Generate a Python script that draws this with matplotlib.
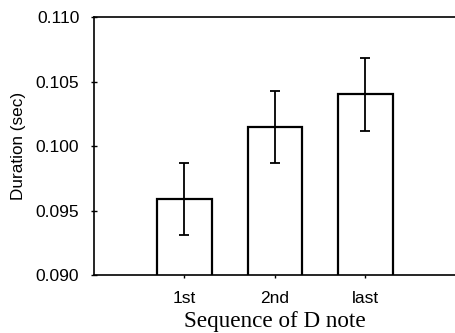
import numpy as np
from matplotlib import pyplot as plt

# Mean duration of each D note with error bars
notes = ['1st', '2nd', 'last']
duration = [0.0959, 0.10145, 0.1040]
err = [0.0028, 0.0028, 0.0028]

fig = plt.figure(figsize=(4.56, 3.33), dpi=100)
ax = fig.add_axes([0.206, 0.174, 0.794, 0.775])

x = np.arange(len(notes))
ax.bar(x, duration, width=0.6, bottom=0, color='white', edgecolor='black',
       linewidth=1.6, zorder=2)
ax.errorbar(x, duration, yerr=err, fmt='none', ecolor='black', elinewidth=1.3,
            capsize=3.8, capthick=1.3, zorder=3)

ax.set_xlim(-1, 3)
ax.set_ylim(0.090, 0.110)
ax.set_yticks([0.090, 0.095, 0.100, 0.105, 0.110])
ax.set_yticklabels(['0.090', '0.095', '0.100', '0.105', '0.110'])
ax.set_xticks(x)
ax.set_xticklabels(notes)

for s in ['left', 'top', 'bottom']:
    ax.spines[s].set_linewidth(1.2)
ax.spines['right'].set_visible(False)
ax.tick_params(axis='y', direction='inout', length=5, width=1, labelsize=12.5,
               pad=8)
ax.tick_params(axis='x', direction='out', length=2.5, width=1, labelsize=12.5,
               pad=9)
for lab in ax.get_xticklabels() + ax.get_yticklabels():
    lab.set_family('Liberation Sans')

ax.set_ylabel('Duration (sec)', family='Liberation Sans', fontsize=12.3,
              labelpad=7)
ax.set_xlabel('Sequence of D note', family='Liberation Serif', fontsize=16.7,
              labelpad=3.5)

plt.savefig('out.png', dpi=100)
